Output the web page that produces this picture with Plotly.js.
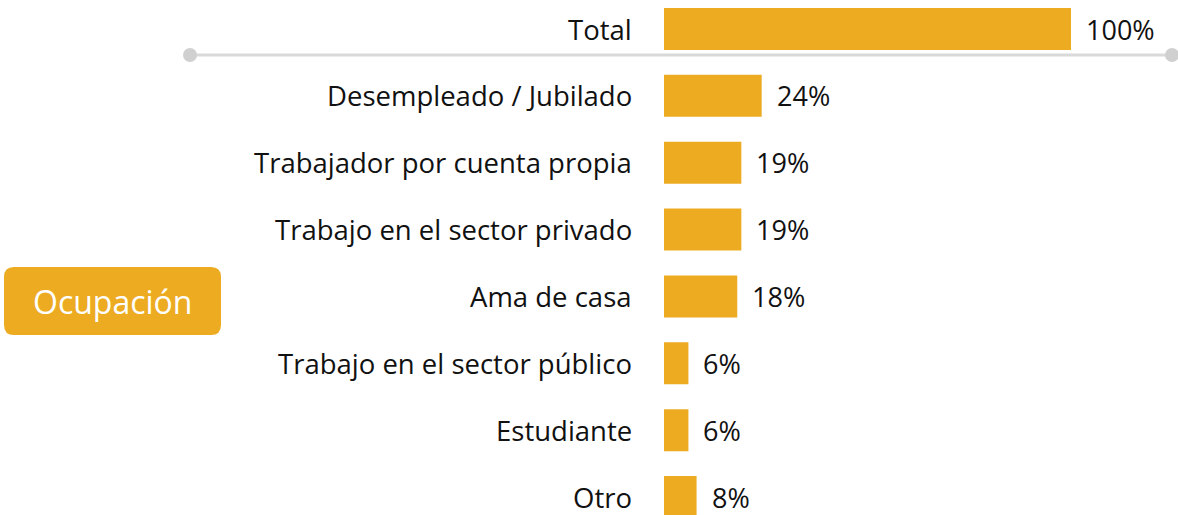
<!DOCTYPE html>
<html>
<head>
<meta charset="utf-8">
<script src="https://cdn.plot.ly/plotly-3.0.1.min.js"></script>
<style>html,body{margin:0;padding:0;background:#fff;}#chart{width:1178px;height:515px;}</style>
</head>
<body>
<div id="chart"></div>
<script>
const categories = ["Total","Desempleado / Jubilado","Trabajador por cuenta propia","Trabajo en el sector privado","Ama de casa","Trabajo en el sector público","Estudiante","Otro"];
const values = [100,24,19,19,18,6,6,8];
const valueLabels = ["100%","24%","19%","19%","18%","6%","6%","8%"];
const badgeLabel = "Ocupación";

const W = 1178, H = 515;
const x0px = 664, k = 4.07;            // px per percent
const px2x = p => (p - x0px) / k;
const rowPx = 66.86, firstPx = 29;
const py2y = p => (p - firstPx) / rowPx;
const FONT = "'Open Sans', sans-serif";
const GOLD = "#ECAB21";

const idx = categories.map((_, i) => i);

const bars = {
  type: 'bar', orientation: 'h',
  x: values, y: idx, base: 0,
  width: 42 / rowPx,
  marker: {color: GOLD, line: {width: 0}},
  hoverinfo: 'skip'
};
const dots = {
  type: 'scatter', mode: 'markers',
  x: [px2x(190), px2x(1172)], y: [py2y(55), py2y(55)],
  marker: {size: 14, color: '#D0D0D0'}, hoverinfo: 'skip', cliponaxis: false
};

const annotations = [];
categories.forEach((c, i) => {
  annotations.push({x: px2x(634), y: i, text: c, xanchor: 'right', yanchor: 'middle', showarrow: false,
    font: {family: FONT, size: 27.5, color: '#111'}});
  annotations.push({x: values[i] + 13 / k, y: i, text: valueLabels[i], xanchor: 'left', yanchor: 'middle', showarrow: false,
    font: {family: FONT, size: 27, color: '#111'}});
});
annotations.push({x: px2x(112.5), y: py2y(301), text: badgeLabel, xanchor: 'center', yanchor: 'middle', showarrow: false,
  font: {family: FONT, size: 32, color: '#fff'}});

// rounded rectangle badge
function roundRect(l, t, r, b, rad) {
  const X = px2x, Y = py2y;
  return `M ${X(l+rad)},${Y(t)} L ${X(r-rad)},${Y(t)} Q ${X(r)},${Y(t)} ${X(r)},${Y(t+rad)} ` +
         `L ${X(r)},${Y(b-rad)} Q ${X(r)},${Y(b)} ${X(r-rad)},${Y(b)} L ${X(l+rad)},${Y(b)} ` +
         `Q ${X(l)},${Y(b)} ${X(l)},${Y(b-rad)} L ${X(l)},${Y(t+rad)} Q ${X(l)},${Y(t)} ${X(l+rad)},${Y(t)} Z`;
}

const shapes = [
  {type: 'line', xref: 'x', yref: 'y', x0: px2x(190), x1: px2x(1172), y0: py2y(55), y1: py2y(55),
   line: {color: '#D9D9D9', width: 3}, layer: 'below'},
  {type: 'path', xref: 'x', yref: 'y', path: roundRect(4, 267, 221, 335, 10),
   fillcolor: GOLD, line: {width: 0}, layer: 'below'}
];

const layout = {
  width: W, height: H,
  margin: {l: 0, r: 0, t: 0, b: 0, pad: 0},
  paper_bgcolor: '#fff', plot_bgcolor: '#fff',
  showlegend: false,
  xaxis: {range: [px2x(0), px2x(W)], visible: false, fixedrange: true},
  yaxis: {range: [py2y(H), py2y(0)], visible: false, fixedrange: true},
  annotations: annotations,
  shapes: shapes,
  font: {family: FONT}
};

Plotly.newPlot('chart', [bars, dots], layout, {displayModeBar: false, staticPlot: true});
</script>
</body>
</html>
